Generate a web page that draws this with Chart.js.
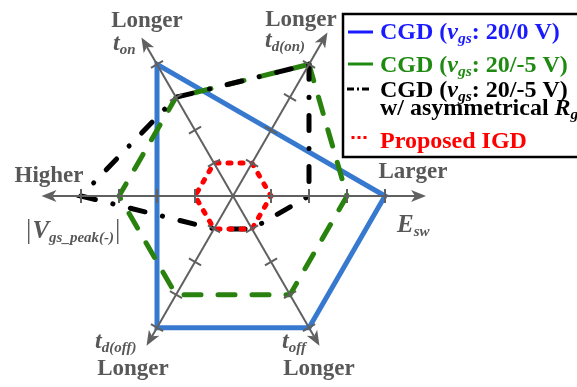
<!DOCTYPE html>
<html>
<head>
<meta charset="utf-8">
<script src="https://cdn.jsdelivr.net/npm/chart.js@4.4.1/dist/chart.umd.min.js"></script>
<style>
  html, body { margin: 0; padding: 0; background: #ffffff; }
  canvas { display: block; }
</style>
</head>
<body>
<canvas id="radar" width="577" height="387"></canvas>
<script>
// Spokes, clockwise starting from the upper-right one
const axes = ['t_d(on)', 'E_sw', 't_off', 't_d(off)', '|V_gs_peak(-)|', 't_on'];
const tickValues = [1, 2, 3, 4];

// Relative scores of each gate driver on every spoke
const cgd20_0 = [2, 4, 4, 4, 2, 4];
const cgd20_5 = [4, 3, 3, 3, 3, 3];
const cgdAsymRg = [4, 2, 1, 1, 4, 3];
const proposedIGD = [1, 1, 1, 1, 1, 1];

const SERIF = '"Liberation Serif", "Times New Roman", serif';
const AXIS_GRAY = '#606060';
const LABEL_GRAY = '#585858';
const BLUE_LINE = '#3779cf';
const GREEN_LINE = '#2a820e';

// how far each spoke's arrow reaches, in scale units
const ARROW_REACH = [4.97, 5.08, 4.55, 4.55, 5.04, 4.82];

const F_B = 'bold 23px ' + SERIF;
const F_BI = 'italic bold 24px ' + SERIF;
const F_SUB = 'italic bold 15px ' + SERIF;
const F_BAR = '27px ' + SERIF;

// legend fonts
const L_B = 'bold 24px ' + SERIF;
const L_BI = 'italic bold 24px ' + SERIF;
const L_SUB = 'italic bold 15.5px ' + SERIF;

// draw a sequence of text runs (with sub-scripts) starting at x
function drawRuns(ctx, x, y, runs, color, align) {
  ctx.save();
  ctx.fillStyle = color;
  ctx.textBaseline = 'alphabetic';
  ctx.textAlign = 'left';
  let total = 0;
  runs.forEach(r => { ctx.font = r.f; total += ctx.measureText(r.t).width; });
  let cx = align === 'center' ? x - total / 2 : x;
  runs.forEach(r => {
    ctx.font = r.f;
    ctx.fillText(r.t, cx, y + (r.dy || 0));
    cx += ctx.measureText(r.t).width + (r.gap || 0);
  });
  ctx.restore();
}

const spokesPlugin = {
  id: 'spokes',
  afterDatasetsDraw(chart) {
    const s = chart.scales.r;
    const ctx = chart.ctx;
    const c = s.getPointPosition(0, 0);
    const ARROW_LEN = 15, ARROW_HALF = 6, TICK_HALF = 7;
    ctx.save();
    ctx.strokeStyle = AXIS_GRAY;
    ctx.fillStyle = AXIS_GRAY;
    ctx.lineWidth = 2;
    axes.forEach((_, i) => {
      const tip = s.getPointPosition(i, s.getDistanceFromCenterForValue(ARROW_REACH[i]));
      const ux = Math.cos(tip.angle), uy = Math.sin(tip.angle);
      const bx = tip.x - ux * ARROW_LEN, by = tip.y - uy * ARROW_LEN;
      ctx.beginPath();
      ctx.moveTo(c.x, c.y);
      ctx.lineTo(bx + ux * 4, by + uy * 4);
      ctx.stroke();
      ctx.beginPath();
      ctx.moveTo(tip.x, tip.y);
      ctx.lineTo(bx - uy * ARROW_HALF, by + ux * ARROW_HALF);
      ctx.lineTo(bx + ux * 4, by + uy * 4);
      ctx.lineTo(bx + uy * ARROW_HALF, by - ux * ARROW_HALF);
      ctx.closePath();
      ctx.fill();
      tickValues.forEach(v => {
        const p = s.getPointPosition(i, s.getDistanceFromCenterForValue(v));
        ctx.beginPath();
        ctx.moveTo(p.x - uy * TICK_HALF, p.y + ux * TICK_HALF);
        ctx.lineTo(p.x + uy * TICK_HALF, p.y - ux * TICK_HALF);
        ctx.stroke();
      });
    });
    ctx.restore();
  },
  afterDraw(chart) {
    const s = chart.scales.r;
    const ctx = chart.ctx;
    const c = s.getPointPosition(0, 0);
    const X = dx => c.x + dx, Y = dy => c.y + dy;

    // spoke captions
    drawRuns(ctx, X(-86), Y(-169), [{t: 'Longer', f: F_B}], LABEL_GRAY, 'center');
    drawRuns(ctx, X(-120), Y(-146), [{t: 't', f: F_BI}, {t: 'on', f: F_SUB, dy: 4}], LABEL_GRAY);
    drawRuns(ctx, X(68), Y(-170), [{t: 'Longer', f: F_B}], LABEL_GRAY, 'center');
    drawRuns(ctx, X(32), Y(-149), [{t: 't', f: F_BI}, {t: 'd(on)', f: F_SUB, dy: 4}], LABEL_GRAY);
    drawRuns(ctx, X(-184), Y(-14), [{t: 'Higher', f: F_B}], LABEL_GRAY, 'center');
    drawRuns(ctx, X(-207), Y(42), [
      {t: '|', f: F_BAR, gap: 1}, {t: 'V', f: 'italic bold 25px ' + SERIF},
      {t: 'gs_peak(-)', f: F_SUB, dy: 4, gap: 1}, {t: '|', f: F_BAR}
    ], LABEL_GRAY);
    drawRuns(ctx, X(180), Y(-18), [{t: 'Larger', f: F_B}], LABEL_GRAY, 'center');
    drawRuns(ctx, X(164), Y(36), [{t: 'E', f: 'italic bold 25px ' + SERIF}, {t: 'sw', f: F_SUB, dy: 4}], LABEL_GRAY);
    drawRuns(ctx, X(-138), Y(152), [{t: 't', f: F_BI}, {t: 'd(off)', f: F_SUB, dy: 4}], LABEL_GRAY);
    drawRuns(ctx, X(-100), Y(179), [{t: 'Longer', f: F_B}], LABEL_GRAY, 'center');
    drawRuns(ctx, X(49), Y(152), [{t: 't', f: F_BI}, {t: 'off', f: F_SUB, dy: 4}], LABEL_GRAY);
    drawRuns(ctx, X(86), Y(179), [{t: 'Longer', f: F_B}], LABEL_GRAY, 'center');

    // legend box
    ctx.save();
    ctx.fillStyle = '#ffffff';
    ctx.fillRect(343, 14, 260, 143);
    ctx.strokeStyle = '#000000';
    ctx.lineWidth = 2.5;
    ctx.strokeRect(343, 14, 260, 143);

    ctx.lineCap = 'butt';
    ctx.lineWidth = 3;
    ctx.strokeStyle = '#1a1aff';
    ctx.beginPath(); ctx.moveTo(348, 32); ctx.lineTo(373, 32); ctx.stroke();
    ctx.strokeStyle = '#1f8a12';
    ctx.beginPath(); ctx.moveTo(348, 64); ctx.lineTo(373, 64); ctx.stroke();
    ctx.strokeStyle = '#000000';
    ctx.setLineDash([7, 3, 2, 3]);
    ctx.beginPath(); ctx.moveTo(347, 89); ctx.lineTo(369, 89); ctx.stroke();
    ctx.setLineDash([]);
    ctx.fillStyle = '#ff0000';
    [353, 359, 365].forEach(x => ctx.fillRect(x - 1.5, 136, 3, 3));
    ctx.restore();

    const vgsRuns = tail => [
      {t: 'CGD (', f: L_B}, {t: 'v', f: L_BI}, {t: 'gs', f: L_SUB, dy: 4}, {t: tail, f: L_B}
    ];
    drawRuns(ctx, 380, 39, vgsRuns(': 20/0 V)'), '#1a1aff');
    drawRuns(ctx, 380, 72, vgsRuns(': 20/-5 V)'), '#1f8a12');
    drawRuns(ctx, 380, 97, vgsRuns(': 20/-5 V)'), '#000000');
    drawRuns(ctx, 380, 115, [
      {t: 'w/ asymmetrical ', f: L_B}, {t: 'R', f: L_BI}, {t: 'g', f: L_SUB, dy: 4}
    ], '#000000');
    drawRuns(ctx, 380, 148, [{t: 'Proposed IGD', f: L_B}], '#ff0000');
  }
};

new Chart(document.getElementById('radar'), {
  type: 'radar',
  data: {
    labels: axes,
    datasets: [
      {
        label: 'Proposed IGD', data: proposedIGD, order: 0,
        borderColor: '#ff0000', borderWidth: 5, borderDash: [3, 9], borderCapStyle: 'round'
      },
      {
        label: 'CGD (vgs: 20/-5 V) w/ asymmetrical Rg', data: cgdAsymRg, order: 1,
        borderColor: '#000000', borderWidth: 5, borderDash: [15, 18, 0.1, 18], borderCapStyle: 'round'
      },
      {
        label: 'CGD (vgs: 20/-5 V)', data: cgd20_5, order: 2,
        borderColor: GREEN_LINE, borderWidth: 5, borderDash: [17, 17], borderCapStyle: 'round'
      },
      {
        label: 'CGD (vgs: 20/0 V)', data: cgd20_0, order: 3,
        borderColor: BLUE_LINE, borderWidth: 5
      }
    ]
  },
  options: {
    responsive: false,
    animation: false,
    devicePixelRatio: 1,
    layout: { padding: { left: 43, right: 154, top: 6, bottom: 1 } },
    elements: {
      line: { fill: false, tension: 0 },
      point: { radius: 0, hoverRadius: 0 }
    },
    scales: {
      r: {
        min: 0,
        max: 5,
        startAngle: 30,
        ticks: { display: false },
        grid: { display: false },
        angleLines: { display: false },
        pointLabels: { display: false }
      }
    },
    plugins: {
      legend: { display: false },
      tooltip: { enabled: false }
    }
  },
  plugins: [spokesPlugin]
});
</script>
</body>
</html>
